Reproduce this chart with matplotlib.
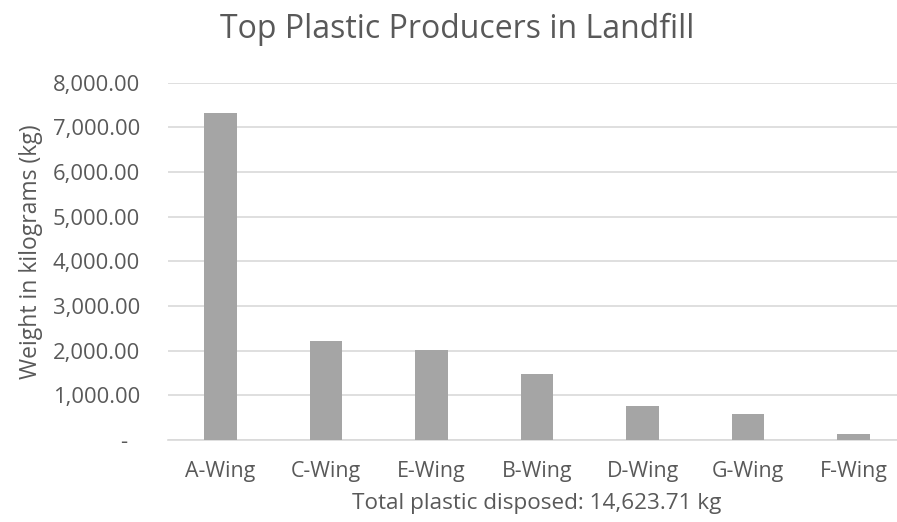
import matplotlib
matplotlib.use("Agg")
import matplotlib.pyplot as plt
from matplotlib.ticker import FuncFormatter

categories = ["A-Wing", "C-Wing", "E-Wing", "B-Wing", "D-Wing", "G-Wing", "F-Wing"]
weights = [7315, 2223, 2022, 1471, 768, 582, 134]
yticks = [0, 1000, 2000, 3000, 4000, 5000, 6000, 7000, 8000]
title = "Top Plastic Producers in Landfill"
ylabel = "Weight in kilograms (kg)"
xlabel = "Total plastic disposed: 14,623.71 kg"

plt.rcParams['font.family'] = ['Open Sans', 'DejaVu Sans']
text_color = "#595959"

W, H = 897, 522
fig = plt.figure(figsize=(W/100, H/100), dpi=100)
left_px, right_px = 167.75, 897
top_px, bot_px = 82.7, 440
ax = fig.add_axes([left_px/W, 1-bot_px/H, (right_px-left_px)/W, (bot_px-top_px)/H])

x = list(range(len(categories)))
ax.bar(x, weights, width=0.31, color="#A5A5A5", zorder=3)
spacing = 105.5
ax.set_xlim(-0.5, -0.5 + (right_px-left_px)/spacing)
ax.set_ylim(0, 8000)
ax.set_yticks(yticks)
ax.yaxis.set_major_formatter(FuncFormatter(lambda v, p: f"{v:,.2f}" if v != 0 else "-  "))
ax.set_xticks(x)
ax.set_xticklabels(categories)
ax.tick_params(axis='y', length=0, colors=text_color, labelsize=15.8, pad=20)
ax.tick_params(axis='x', length=0, colors=text_color, labelsize=15.4, pad=15)
ax.grid(axis='y', color="#D9D9D9", linewidth=1.2, zorder=0)
for s in ["top", "right", "left"]:
    ax.spines[s].set_visible(False)
ax.spines["bottom"].set_color("#D9D9D9")
ax.spines["bottom"].set_linewidth(1.2)

fig.text(457/W, 1-38/H, title, ha="center", va="baseline", fontsize=23, color=text_color)
fig.text(537/W, 1-509/H, xlabel, ha="center", va="baseline", fontsize=16.2, color=text_color)
fig.text(31/W, 1-252/H, ylabel, ha="center", va="center", rotation=90, fontsize=16.5, color=text_color)

fig.savefig("out.png", dpi=100)
